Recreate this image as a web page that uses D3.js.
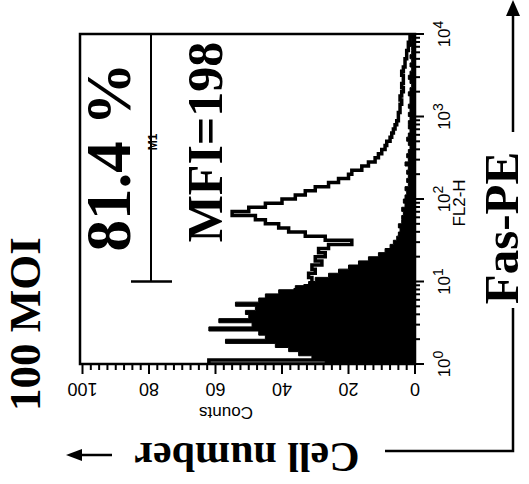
<!DOCTYPE html>
<html><head><meta charset="utf-8">
<script src="https://cdn.jsdelivr.net/npm/d3@7"></script>
<style>html,body{margin:0;padding:0;background:#fff;}svg{display:block;}</style>
</head><body>
<svg id="chart" width="529" height="484"></svg>
<script>
// ---- data ----
const binWidthLog = 0.05; // each bin = 1/20 decade on FL2-H
const filledCounts = [27,31,35,38,42,57,45,47,62,49,59,50,51,48,54,47,45,41,36,32,
  30,26,23,20,17,14,11,9,7.5,6.5,5.5,5,4.5,5,4,4,3.5,4,3,3.5,
  3,2.5,3,2,2.5,2,2.5,2,3,2,2.5,2,1.5,2,2.5,2,1.5,2,2,1.5,
  2,1.5,2,1.5,1.5,2,1.5,1,1.5,2,1.5,1,1.5,1,1.5,1,1,1.5,1,1.5];
const outlineCounts = [62,25,28,30,33,35,36,38,40,41,42,42,43,42,41,40,38,36,33,31,
  31,32,30,31,28,30,27,29,26,19,27,33,38,41,45,48,55,50,45,40,
  36,33,30,26,23,20,19,16,14,12,11,10,9,8.5,7.5,7,6.5,6,5.5,5,
  5,4.5,4.5,4,4.5,4,3.5,4,3.5,3.5,4,3.5,3,3,2.5,2.5,2,2,1.5,1.5];
const countTicks = [0,20,40,60,80,100];
const decadeTicks = [1,10,100,1000,10000];
const gate = [10, 10000];
const texts = {pct:"81.4 %", mfi:"MFI=198", moi:"100 MOI", cell:"Cell number", fas:"Fas-PE", xlab:"FL2-H", ylab:"Counts", gateLab:"M1"};

// ---- layout ----
const svg = d3.select("#chart");
const box = {left:80, right:415, top:34, bottom:364};
const fl = d3.scaleLog().domain([1,10000]).range([box.bottom, box.top]);
const cnt = d3.scaleLinear().domain([0,100]).range([box.right, 82.5]);
const serif = "'Liberation Serif','Times New Roman',serif";
const sans = "'Liberation Sans',Arial,Helvetica,sans-serif";

function stepPoints(vals){
  const pts=[{c:0,f:1}];
  vals.forEach((v,i)=>{
    pts.push({c:v,f:Math.pow(10,i*binWidthLog)});
    pts.push({c:v,f:Math.pow(10,(i+1)*binWidthLog)});
  });
  pts.push({c:0,f:10000});
  return pts;
}
const line = d3.line().x(d=>cnt(d.c)).y(d=>fl(d.f));

// clip
svg.append("clipPath").attr("id","clip").append("rect")
  .attr("x",box.left).attr("y",box.top).attr("width",box.right-box.left).attr("height",box.bottom-box.top);

const g = svg.append("g").attr("clip-path","url(#clip)");
g.append("path").attr("d",line(stepPoints(filledCounts))+"Z").attr("fill","#000").attr("stroke","#000").attr("stroke-width",1);
g.append("path").attr("d",line(stepPoints(outlineCounts))).attr("fill","none").attr("stroke","#000").attr("stroke-width",3.5).attr("stroke-linejoin","miter");

// box
svg.append("rect").attr("x",box.left).attr("y",box.top).attr("width",box.right-box.left).attr("height",box.bottom-box.top)
  .attr("fill","none").attr("stroke","#000").attr("stroke-width",2.5);

// bottom (counts) axis ticks
const cTicks = d3.range(0,100.01,2.5);
svg.append("g").selectAll("line").data(cTicks).join("line")
  .attr("x1",d=>cnt(d)).attr("x2",d=>cnt(d)).attr("y1",box.bottom)
  .attr("y2",d=>box.bottom+(d%20===0?10:6)).attr("stroke","#000").attr("stroke-width",2);
svg.append("g").selectAll("text").data(countTicks).join("text")
  .attr("transform",d=>`translate(${cnt(d)},383) rotate(180)`)
  .attr("text-anchor","middle").attr("font-family",sans).attr("font-size",18).text(d=>d);
svg.append("text").attr("transform","translate(226,407) rotate(180)").attr("text-anchor","middle")
  .attr("font-family",sans).attr("font-size",17).text(texts.ylab);

// right (FL2-H) axis ticks
const minor=[];
for(let k=0;k<4;k++) for(let m=1;m<=9;m++) minor.push(m*Math.pow(10,k));
minor.push(10000);
svg.append("g").selectAll("line").data(minor).join("line")
  .attr("y1",d=>fl(d)).attr("y2",d=>fl(d)).attr("x1",box.right)
  .attr("x2",d=>box.right+(decadeTicks.includes(d)?9:5)).attr("stroke","#000").attr("stroke-width",2);
const dl = svg.append("g").selectAll("text").data(decadeTicks).join("text")
  .attr("transform",d=>`translate(450,${fl(d)}) rotate(-90)`)
  .attr("text-anchor","middle").attr("font-family",sans).attr("font-size",17);
dl.append("tspan").text("10");
dl.append("tspan").attr("dy",-7).attr("font-size",14).text(d=>Math.round(Math.log10(d)));
svg.append("text").attr("transform",`translate(465,${fl(100)+4}) rotate(-90)`).attr("text-anchor","middle")
  .attr("font-family",sans).attr("font-size",17).text(texts.xlab);

// gate M1
const gx = 151;
svg.append("line").attr("x1",gx).attr("x2",gx).attr("y1",fl(gate[0])).attr("y2",fl(gate[1])).attr("stroke","#000").attr("stroke-width",2);
svg.append("line").attr("x1",gx-20).attr("x2",gx+21).attr("y1",fl(gate[0])).attr("y2",fl(gate[0])).attr("stroke","#000").attr("stroke-width",2.5);
svg.append("text").attr("transform",`translate(${gx+6},142) rotate(-90)`).attr("text-anchor","middle")
  .attr("font-family",sans).attr("font-size",12).attr("font-weight","bold").text(texts.gateLab);

// big annotations
function bigText(str,x,y,size,rot){
  svg.append("text").attr("transform",`translate(${x},${y}) rotate(${rot})`).attr("text-anchor","middle")
    .attr("font-family",serif).attr("font-weight","bold").attr("font-size",size).text(str);
}
bigText(texts.pct,130,157,63,-90);
bigText(texts.mfi,222,142,50,-90);
bigText(texts.moi,40,324,45,-90);
bigText(texts.fas,518,228,49,-90);
bigText(texts.cell,247,443,42,180);

// arrows
svg.append("line").attr("x1",112).attr("x2",78).attr("y1",455).attr("y2",455).attr("stroke","#000").attr("stroke-width",2.5);
svg.append("path").attr("d","M66,455 L82,449 L82,461 Z").attr("fill","#000");
svg.append("path").attr("d","M385,451 L513,451 L513,308").attr("fill","none").attr("stroke","#000").attr("stroke-width",2.5);
svg.append("line").attr("x1",513).attr("x2",513).attr("y1",132).attr("y2",12).attr("stroke","#000").attr("stroke-width",2.5);
svg.append("path").attr("d","M513,0 L506,16 L520,16 Z").attr("fill","#000");
</script>
</body></html>
